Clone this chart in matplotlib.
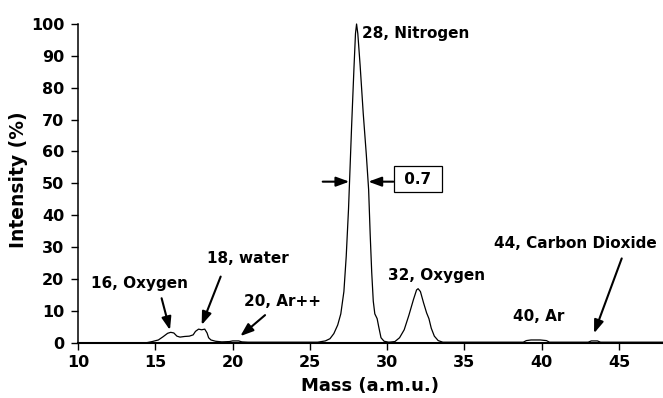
import matplotlib
matplotlib.use("Agg")
import matplotlib.pyplot as plt

# spectrum trace (mass, intensity %)
mass = [14.5, 14.8, 15.2, 15.5, 15.8, 16.0, 16.2, 16.4, 16.6, 16.9, 17.2, 17.45,
        17.6, 17.8, 18.0, 18.2, 18.35, 18.45, 18.6, 18.9, 19.3, 19.8, 20.0, 20.4,
        20.6, 21.0, 25.5, 26.0, 26.3, 26.55, 26.8, 27.0, 27.2, 27.35, 27.5, 27.6,
        27.7, 27.85, 27.95, 28.02, 28.1, 28.25, 28.45, 28.65, 28.8, 28.9, 29.0,
        29.1, 29.2, 29.35, 29.45, 29.6, 29.8, 30.1, 30.5, 30.8, 31.1, 31.4, 31.7,
        31.9, 32.0, 32.15, 32.35, 32.55, 32.7, 32.85, 33.05, 33.3, 33.6, 38.8,
        39.0, 39.3, 39.9, 40.3, 40.5, 43.0, 43.2, 43.6, 43.8, 47.8]
intensity = [0, 0.3, 0.8, 1.8, 2.9, 3.2, 3.0, 2.0, 1.7, 1.9, 2.0, 2.4,
             3.5, 4.2, 4.0, 4.2, 3.0, 1.5, 0.8, 0.4, 0.2, 0.3, 0.5, 0.5,
             0.2, 0.1, 0.1, 0.5, 1.2, 2.8, 5.5, 9, 16, 27, 42, 55,
             68, 86, 97, 100, 97, 87, 72, 59, 48, 34, 22,
             13, 9, 7.5, 5, 1.5, 0.4, 0.1, 0.3, 1.5, 4, 8.5, 13.5,
             16.5, 16.9, 16, 12.5, 9.3, 7.5, 4.5, 2.0, 0.6, 0.1, 0.1,
             0.6, 0.8, 0.8, 0.6, 0.1, 0.1, 0.5, 0.5, 0.1, 0.1]

x_ticks = [10, 15, 20, 25, 30, 35, 40, 45]
y_ticks = [0, 10, 20, 30, 40, 50, 60, 70, 80, 90, 100]

# labels with arrows: text, text position, arrow tail, arrow head
arrow_labels = ["16, Oxygen", "18, water", "20, Ar++", "44, Carbon Dioxide"]
arrow_text_pos = [(14.0, 18.6), (21.0, 26.4), (23.2, 12.8), (42.15, 31.1)]
arrow_tails = [(15.41, 13.9), (19.23, 20.7), (22.1, 8.6), (45.17, 26.4)]
arrow_heads = [(15.95, 3.9), (18.0, 5.5), (20.5, 2.0), (43.38, 2.9)]

# plain labels
plain_labels = ["32, Oxygen", "40, Ar"]
plain_pos = [(33.2, 21.0), (39.8, 8.3)]

fwhm_text = "0.7"
fwhm_level = 50.5
fwhm_edges = (27.55, 28.78)


def arrow(ax, tail, head):
    ax.annotate("", xy=head, xytext=tail,
                arrowprops=dict(arrowstyle="-|>,head_length=0.6,head_width=0.22",
                                color="black", lw=1.5, mutation_scale=13,
                                shrinkA=0, shrinkB=0))


def plot_spectrum():
    plt.rcParams["font.family"] = "DejaVu Sans"
    plt.rcParams["font.weight"] = "bold"
    fig = plt.figure(figsize=(6.63, 3.98), dpi=100)
    ax = fig.add_axes([0.1176, 0.1394, 0.8824, 0.8003])

    ax.plot(mass, intensity, color="black", lw=0.9, clip_on=False)

    ax.set_xlim(10, 47.84)
    ax.set_ylim(0, 100)
    ax.set_xticks(x_ticks)
    ax.set_yticks(y_ticks)
    ax.tick_params(direction="out", length=5, width=1.0, labelsize=11.5, pad=4)
    ax.tick_params(axis="y", pad=5)
    for lab in ax.get_xticklabels() + ax.get_yticklabels():
        lab.set_fontweight("bold")

    ax.spines["top"].set_visible(False)
    ax.spines["right"].set_visible(False)
    ax.spines["left"].set_linewidth(1.1)
    ax.spines["bottom"].set_linewidth(1.5)

    ax.set_xlabel("Mass (a.m.u.)", fontsize=13, fontweight="bold")
    ax.set_ylabel("Intensity (%)", fontsize=13.5, fontweight="bold")
    ax.xaxis.set_label_coords(0.5, -0.108)
    ax.yaxis.set_label_coords(-0.085, 0.51)

    ax.text(28.4, 97, "28, Nitrogen", fontsize=11, fontweight="bold",
            ha="left", va="center")
    for txt, pos in zip(plain_labels, plain_pos):
        ax.text(pos[0], pos[1], txt, fontsize=11, fontweight="bold",
                ha="center", va="center")
    for txt, pos, tail, head in zip(arrow_labels, arrow_text_pos, arrow_tails, arrow_heads):
        ax.text(pos[0], pos[1], txt, fontsize=11, fontweight="bold",
                ha="center", va="center")
        arrow(ax, tail, head)

    # width marker at half height
    ax.text(32.0, 51.3, " " + fwhm_text + " ", fontsize=11, fontweight="bold",
            ha="center", va="center",
            bbox=dict(boxstyle="square,pad=0.35", fc="white", ec="black", lw=0.9))
    arrow(ax, (25.83, fwhm_level), (fwhm_edges[0], fwhm_level))
    arrow(ax, (30.4, fwhm_level), (fwhm_edges[1], fwhm_level))

    fig.savefig("out.png", dpi=100)


plot_spectrum()
